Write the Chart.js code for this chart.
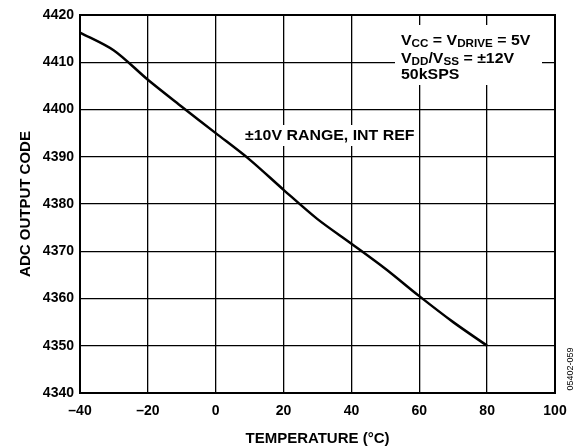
<!DOCTYPE html>
<html>
<head>
<meta charset="utf-8">
<script src="https://cdn.jsdelivr.net/npm/chart.js@4"></script>
<style>
  body { margin: 0; background: #fff; }
</style>
</head>
<body>
<canvas id="adc-chart" width="579" height="446"></canvas>
<script>
const temperatures = [-40, -30, -20, -10, 0, 10, 20, 30, 40, 50, 60, 70, 80];
const outputCodes = [4416.3, 4412.5, 4406.3, 4400.6, 4395.0, 4389.4, 4383.0, 4376.8, 4371.6, 4366.3, 4360.5, 4355.0, 4350.0];
const xTicks = [-40, -20, 0, 20, 40, 60, 80, 100];
const yTicks = [4340, 4350, 4360, 4370, 4380, 4390, 4400, 4410, 4420];

const FONT = 'Liberation Sans, Arial, sans-serif';

// draws the frame, the white-backed notes and the figure id
const notes = {
  id: 'notes',
  afterDraw(chart) {
    const ctx = chart.ctx;
    const a = chart.chartArea;
    ctx.save();

    ctx.strokeStyle = '#000';
    ctx.lineWidth = 2;
    ctx.strokeRect(a.left, a.top, a.right - a.left, a.bottom - a.top);

    ctx.fillStyle = '#fff';
    ctx.fillRect(243, 125, 172, 21);
    ctx.fillRect(395, 25, 147, 60);

    ctx.fillStyle = '#000';
    ctx.textBaseline = 'alphabetic';
    ctx.textAlign = 'left';

    // text with subscripts, stretched a little to match the wide source face
    const line = (parts, x, y) => {
      ctx.save();
      ctx.translate(x, y);
      ctx.scale(1.06, 1);
      let cx = 0;
      parts.forEach(([t, sub]) => {
        ctx.font = (sub ? 'bold 11px ' : 'bold 15px ') + FONT;
        ctx.fillText(t, cx, sub ? 2 : 0);
        cx += ctx.measureText(t).width;
      });
      ctx.restore();
    };
    line([['±10V RANGE, INT REF', 0]], 245, 140);
    line([['V', 0], ['CC', 1], [' = V', 0], ['DRIVE', 1], [' = 5V', 0]], 401, 45);
    line([['V', 0], ['DD', 1], ['/V', 0], ['SS', 1], [' = ±12V', 0]], 401, 62.5);
    line([['50kSPS', 0]], 401, 78.5);

    ctx.font = '9px ' + FONT;
    ctx.translate(573, 369);
    ctx.rotate(-Math.PI / 2);
    ctx.textAlign = 'center';
    ctx.fillText('05402-059', 0, 0);
    ctx.restore();
  }
};

new Chart(document.getElementById('adc-chart'), {
  type: 'line',
  data: {
    datasets: [{
      data: temperatures.map((t, i) => ({ x: t, y: outputCodes[i] })),
      borderColor: '#000',
      borderWidth: 2.5,
      pointRadius: 0,
      tension: 0.3
    }]
  },
  options: {
    responsive: false,
    animation: false,
    layout: { padding: { top: 15, right: 24, left: 0, bottom: 0 } },
    plugins: {
      legend: { display: false },
      tooltip: { enabled: false }
    },
    scales: {
      x: {
        type: 'linear',
        min: -40,
        max: 100,
        afterBuildTicks: s => { s.ticks = xTicks.map(v => ({ value: v })); },
        afterFit: s => { s.height = 53; },
        ticks: {
          color: '#000',
          padding: 10,
          maxRotation: 0,
          font: { family: FONT, size: 14, weight: 'bold' },
          callback: v => String(v).replace('-', '\u2013')
        },
        grid: { color: '#000', lineWidth: 1.3, drawTicks: false },
        border: { color: '#000', width: 2 },
        title: {
          display: true,
          text: 'TEMPERATURE (°C)',
          color: '#000',
          font: { family: FONT, size: 15, weight: 'bold' },
          padding: { top: 10, bottom: -2 }
        }
      },
      y: {
        min: 4340,
        max: 4420,
        afterBuildTicks: s => { s.ticks = yTicks.map(v => ({ value: v })); },
        afterFit: s => { s.width = 80; },
        ticks: {
          color: '#000',
          padding: 6,
          font: { family: FONT, size: 14, weight: 'bold' },
          callback: v => String(v)
        },
        grid: { color: '#000', lineWidth: 1.3, drawTicks: false },
        border: { color: '#000', width: 2 },
        title: {
          display: true,
          text: 'ADC OUTPUT CODE',
          color: '#000',
          font: { family: FONT, size: 15, weight: 'bold' },
          padding: { top: 17, bottom: 0 }
        }
      }
    }
  },
  plugins: [notes]
});
</script>
</body>
</html>
